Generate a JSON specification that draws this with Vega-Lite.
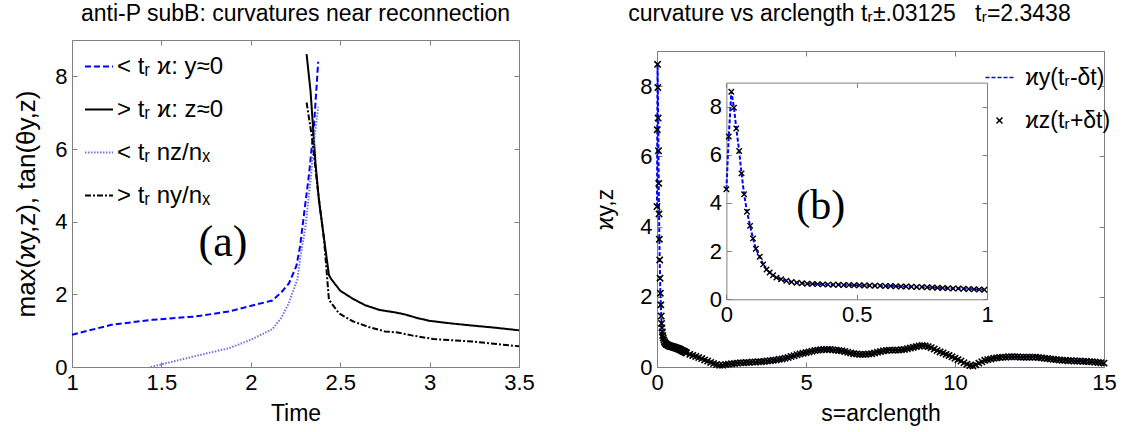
{
  "$schema": "https://vega.github.io/schema/vega-lite/v6.json",
  "padding": {"left": 13, "top": 2, "right": 5, "bottom": 5},
  "background": "white",
  "config": {
    "font": "Liberation Sans",
    "view": {"stroke": "#808080", "strokeWidth": 1},
    "title": {"font": "Liberation Sans", "fontSize": 23, "fontWeight": "normal", "color": "#000", "baseline": "alphabetic", "anchor": "middle"},
    "axis": {"labelFont": "Liberation Sans", "labelFontSize": 22, "labelColor": "#000", "titleFont": "Liberation Sans", "titleFontSize": 23, "titleFontWeight": "normal", "titleColor": "#000", "tickColor": "#808080", "tickSize": -5, "tickWidth": 1, "domain": false, "domainColor": "#808080", "domainWidth": 1, "grid": false, "labelPadding": 10, "labelFlush": false, "labelOverlap": false, "format": "~g"}
  },
  "datasets": {
    "left": [
      {"series": "< tᵣ ϰ: y≈0", "t": 1.0, "v": 0.89},
      {"series": "< tᵣ ϰ: y≈0", "t": 1.22, "v": 1.16},
      {"series": "< tᵣ ϰ: y≈0", "t": 1.45, "v": 1.3},
      {"series": "< tᵣ ϰ: y≈0", "t": 1.69, "v": 1.39},
      {"series": "< tᵣ ϰ: y≈0", "t": 1.88, "v": 1.53},
      {"series": "< tᵣ ϰ: y≈0", "t": 1.99, "v": 1.67},
      {"series": "< tᵣ ϰ: y≈0", "t": 2.12, "v": 1.83},
      {"series": "< tᵣ ϰ: y≈0", "t": 2.17, "v": 2.05},
      {"series": "< tᵣ ϰ: y≈0", "t": 2.213, "v": 2.3},
      {"series": "< tᵣ ϰ: y≈0", "t": 2.255, "v": 2.78},
      {"series": "< tᵣ ϰ: y≈0", "t": 2.275, "v": 3.3},
      {"series": "< tᵣ ϰ: y≈0", "t": 2.298, "v": 4.22},
      {"series": "< tᵣ ϰ: y≈0", "t": 2.326, "v": 5.32},
      {"series": "< tᵣ ϰ: y≈0", "t": 2.354, "v": 6.69},
      {"series": "< tᵣ ϰ: y≈0", "t": 2.377, "v": 8.4},
      {"series": "> tᵣ ϰ: z≈0", "t": 2.312, "v": 8.61},
      {"series": "> tᵣ ϰ: z≈0", "t": 2.334, "v": 7.6},
      {"series": "> tᵣ ϰ: z≈0", "t": 2.362, "v": 5.6},
      {"series": "> tᵣ ϰ: z≈0", "t": 2.381, "v": 4.59},
      {"series": "> tᵣ ϰ: z≈0", "t": 2.437, "v": 2.53},
      {"series": "> tᵣ ϰ: z≈0", "t": 2.45, "v": 2.42},
      {"series": "> tᵣ ϰ: z≈0", "t": 2.5, "v": 2.1},
      {"series": "> tᵣ ϰ: z≈0", "t": 2.57, "v": 1.88},
      {"series": "> tᵣ ϰ: z≈0", "t": 2.64, "v": 1.7},
      {"series": "> tᵣ ϰ: z≈0", "t": 2.72, "v": 1.57},
      {"series": "> tᵣ ϰ: z≈0", "t": 2.81, "v": 1.5},
      {"series": "> tᵣ ϰ: z≈0", "t": 2.86, "v": 1.45},
      {"series": "> tᵣ ϰ: z≈0", "t": 2.93, "v": 1.35},
      {"series": "> tᵣ ϰ: z≈0", "t": 3.0, "v": 1.27},
      {"series": "> tᵣ ϰ: z≈0", "t": 3.12, "v": 1.2},
      {"series": "> tᵣ ϰ: z≈0", "t": 3.24, "v": 1.14},
      {"series": "> tᵣ ϰ: z≈0", "t": 3.37, "v": 1.08},
      {"series": "> tᵣ ϰ: z≈0", "t": 3.5, "v": 1.01},
      {"series": "< tᵣ nz/nₓ", "t": 1.44, "v": 0.0},
      {"series": "< tᵣ nz/nₓ", "t": 1.69, "v": 0.3},
      {"series": "< tᵣ nz/nₓ", "t": 1.88, "v": 0.52},
      {"series": "< tᵣ nz/nₓ", "t": 2.0, "v": 0.75},
      {"series": "< tᵣ nz/nₓ", "t": 2.12, "v": 1.04},
      {"series": "< tᵣ nz/nₓ", "t": 2.17, "v": 1.35},
      {"series": "< tᵣ nz/nₓ", "t": 2.213, "v": 1.76},
      {"series": "< tᵣ nz/nₓ", "t": 2.232, "v": 2.03},
      {"series": "< tᵣ nz/nₓ", "t": 2.26, "v": 2.4},
      {"series": "< tᵣ nz/nₓ", "t": 2.278, "v": 3.04},
      {"series": "< tᵣ nz/nₓ", "t": 2.306, "v": 3.86},
      {"series": "< tᵣ nz/nₓ", "t": 2.334, "v": 5.14},
      {"series": "< tᵣ nz/nₓ", "t": 2.354, "v": 6.23},
      {"series": "< tᵣ nz/nₓ", "t": 2.377, "v": 7.15},
      {"series": "> tᵣ ny/nₓ", "t": 2.312, "v": 7.28},
      {"series": "> tᵣ ny/nₓ", "t": 2.345, "v": 6.23},
      {"series": "> tᵣ ny/nₓ", "t": 2.373, "v": 4.95},
      {"series": "> tᵣ ny/nₓ", "t": 2.41, "v": 3.49},
      {"series": "> tᵣ ny/nₓ", "t": 2.437, "v": 1.85},
      {"series": "> tᵣ ny/nₓ", "t": 2.45, "v": 1.76},
      {"series": "> tᵣ ny/nₓ", "t": 2.493, "v": 1.48},
      {"series": "> tᵣ ny/nₓ", "t": 2.57, "v": 1.26},
      {"series": "> tᵣ ny/nₓ", "t": 2.66, "v": 1.1},
      {"series": "> tᵣ ny/nₓ", "t": 2.75, "v": 0.98},
      {"series": "> tᵣ ny/nₓ", "t": 2.82, "v": 0.95},
      {"series": "> tᵣ ny/nₓ", "t": 2.9, "v": 0.87},
      {"series": "> tᵣ ny/nₓ", "t": 3.02, "v": 0.77},
      {"series": "> tᵣ ny/nₓ", "t": 3.24, "v": 0.7},
      {"series": "> tᵣ ny/nₓ", "t": 3.5, "v": 0.57}
    ],
    "curv": [
      {"s": 0, "k": 4.57}, {"s": 0.009, "k": 6.76}, {"s": 0.019, "k": 8.62}, {"s": 0.029, "k": 7.96},
      {"s": 0.038, "k": 7.09}, {"s": 0.049, "k": 6.16}, {"s": 0.058, "k": 5.23}, {"s": 0.068, "k": 4.36},
      {"s": 0.079, "k": 3.64}, {"s": 0.091, "k": 3.05}, {"s": 0.102, "k": 2.53}, {"s": 0.113, "k": 2.1},
      {"s": 0.128, "k": 1.77}, {"s": 0.141, "k": 1.45}, {"s": 0.154, "k": 1.24}, {"s": 0.166, "k": 1.11},
      {"s": 0.179, "k": 1.0}, {"s": 0.192, "k": 0.9}, {"s": 0.21, "k": 0.83}, {"s": 0.23, "k": 0.77},
      {"s": 0.25, "k": 0.72}, {"s": 0.27, "k": 0.69}, {"s": 0.29, "k": 0.67}, {"s": 0.31, "k": 0.65},
      {"s": 0.33, "k": 0.64}, {"s": 0.35, "k": 0.63}, {"s": 0.37, "k": 0.62}, {"s": 0.39, "k": 0.61},
      {"s": 0.41, "k": 0.6}, {"s": 0.43, "k": 0.6}, {"s": 0.45, "k": 0.59}, {"s": 0.47, "k": 0.59},
      {"s": 0.49, "k": 0.58}, {"s": 0.51, "k": 0.58}, {"s": 0.53, "k": 0.57}, {"s": 0.55, "k": 0.57},
      {"s": 0.57, "k": 0.56}, {"s": 0.59, "k": 0.56}, {"s": 0.61, "k": 0.55}, {"s": 0.63, "k": 0.55},
      {"s": 0.65, "k": 0.54}, {"s": 0.67, "k": 0.53}, {"s": 0.69, "k": 0.53}, {"s": 0.71, "k": 0.52},
      {"s": 0.73, "k": 0.51}, {"s": 0.75, "k": 0.51}, {"s": 0.77, "k": 0.5}, {"s": 0.79, "k": 0.49},
      {"s": 0.81, "k": 0.48}, {"s": 0.83, "k": 0.47}, {"s": 0.85, "k": 0.46}, {"s": 0.87, "k": 0.45},
      {"s": 0.89, "k": 0.45}, {"s": 0.91, "k": 0.44}, {"s": 0.93, "k": 0.43}, {"s": 0.95, "k": 0.42},
      {"s": 0.97, "k": 0.41}, {"s": 0.99, "k": 0.4},
      {"s": 1.1, "k": 0.36}, {"s": 1.2, "k": 0.33}, {"s": 1.3, "k": 0.3}, {"s": 1.4, "k": 0.27},
      {"s": 1.5, "k": 0.24}, {"s": 1.6, "k": 0.2}, {"s": 1.7, "k": 0.17}, {"s": 1.8, "k": 0.13},
      {"s": 1.9, "k": 0.1}, {"s": 2.0, "k": 0.07}, {"s": 2.1, "k": 0.05}, {"s": 2.2, "k": 0.05},
      {"s": 2.3, "k": 0.07}, {"s": 2.4, "k": 0.08}, {"s": 2.5, "k": 0.09}, {"s": 2.6, "k": 0.1},
      {"s": 2.7, "k": 0.11}, {"s": 2.8, "k": 0.12}, {"s": 2.9, "k": 0.12}, {"s": 3.0, "k": 0.13},
      {"s": 3.1, "k": 0.13}, {"s": 3.2, "k": 0.14}, {"s": 3.3, "k": 0.14}, {"s": 3.4, "k": 0.15},
      {"s": 3.5, "k": 0.15}, {"s": 3.6, "k": 0.16}, {"s": 3.7, "k": 0.17}, {"s": 3.8, "k": 0.18},
      {"s": 3.9, "k": 0.19}, {"s": 4.0, "k": 0.2}, {"s": 4.1, "k": 0.22}, {"s": 4.2, "k": 0.23},
      {"s": 4.3, "k": 0.25}, {"s": 4.4, "k": 0.27}, {"s": 4.5, "k": 0.3}, {"s": 4.6, "k": 0.32},
      {"s": 4.7, "k": 0.35}, {"s": 4.8, "k": 0.37}, {"s": 4.9, "k": 0.39}, {"s": 5.0, "k": 0.41},
      {"s": 5.1, "k": 0.43}, {"s": 5.2, "k": 0.45}, {"s": 5.3, "k": 0.47}, {"s": 5.4, "k": 0.48},
      {"s": 5.5, "k": 0.49}, {"s": 5.6, "k": 0.5}, {"s": 5.7, "k": 0.5}, {"s": 5.8, "k": 0.5},
      {"s": 5.9, "k": 0.49}, {"s": 6.0, "k": 0.48}, {"s": 6.1, "k": 0.47}, {"s": 6.2, "k": 0.46},
      {"s": 6.3, "k": 0.44}, {"s": 6.4, "k": 0.42}, {"s": 6.5, "k": 0.4}, {"s": 6.6, "k": 0.38},
      {"s": 6.7, "k": 0.37}, {"s": 6.8, "k": 0.36}, {"s": 6.9, "k": 0.36}, {"s": 7.0, "k": 0.36},
      {"s": 7.1, "k": 0.37}, {"s": 7.2, "k": 0.38}, {"s": 7.3, "k": 0.4}, {"s": 7.4, "k": 0.42},
      {"s": 7.5, "k": 0.44}, {"s": 7.6, "k": 0.46}, {"s": 7.7, "k": 0.47}, {"s": 7.8, "k": 0.48},
      {"s": 7.9, "k": 0.48}, {"s": 8.0, "k": 0.48}, {"s": 8.1, "k": 0.48}, {"s": 8.2, "k": 0.49},
      {"s": 8.3, "k": 0.5}, {"s": 8.4, "k": 0.52}, {"s": 8.5, "k": 0.54}, {"s": 8.6, "k": 0.56},
      {"s": 8.7, "k": 0.58}, {"s": 8.8, "k": 0.6}, {"s": 8.9, "k": 0.61}, {"s": 9.0, "k": 0.6},
      {"s": 9.1, "k": 0.58}, {"s": 9.2, "k": 0.55}, {"s": 9.3, "k": 0.51}, {"s": 9.4, "k": 0.47},
      {"s": 9.5, "k": 0.43}, {"s": 9.6, "k": 0.4}, {"s": 9.7, "k": 0.36}, {"s": 9.8, "k": 0.33},
      {"s": 9.9, "k": 0.29}, {"s": 10.0, "k": 0.25}, {"s": 10.1, "k": 0.21}, {"s": 10.2, "k": 0.17},
      {"s": 10.3, "k": 0.12}, {"s": 10.4, "k": 0.08}, {"s": 10.5, "k": 0.04}, {"s": 10.6, "k": 0.03},
      {"s": 10.7, "k": 0.06}, {"s": 10.8, "k": 0.11}, {"s": 10.9, "k": 0.15}, {"s": 11.0, "k": 0.19},
      {"s": 11.1, "k": 0.21}, {"s": 11.2, "k": 0.23}, {"s": 11.3, "k": 0.25}, {"s": 11.4, "k": 0.26},
      {"s": 11.5, "k": 0.27}, {"s": 11.6, "k": 0.28}, {"s": 11.7, "k": 0.28}, {"s": 11.8, "k": 0.29},
      {"s": 11.9, "k": 0.29}, {"s": 12.0, "k": 0.29}, {"s": 12.1, "k": 0.29}, {"s": 12.2, "k": 0.28},
      {"s": 12.3, "k": 0.28}, {"s": 12.4, "k": 0.28}, {"s": 12.5, "k": 0.28}, {"s": 12.6, "k": 0.28},
      {"s": 12.7, "k": 0.28}, {"s": 12.8, "k": 0.27}, {"s": 12.9, "k": 0.26}, {"s": 13.0, "k": 0.25},
      {"s": 13.1, "k": 0.24}, {"s": 13.2, "k": 0.23}, {"s": 13.3, "k": 0.22}, {"s": 13.4, "k": 0.21},
      {"s": 13.5, "k": 0.2}, {"s": 13.6, "k": 0.19}, {"s": 13.7, "k": 0.19}, {"s": 13.8, "k": 0.18},
      {"s": 13.9, "k": 0.18}, {"s": 14.0, "k": 0.17}, {"s": 14.1, "k": 0.17}, {"s": 14.2, "k": 0.17},
      {"s": 14.3, "k": 0.16}, {"s": 14.4, "k": 0.16}, {"s": 14.5, "k": 0.15}, {"s": 14.6, "k": 0.15},
      {"s": 14.7, "k": 0.14}, {"s": 14.8, "k": 0.13}, {"s": 14.9, "k": 0.12}, {"s": 15.0, "k": 0.11}
    ]
  },
  "spacing": 59,
  "resolve": {"scale": {"color": "independent", "strokeDash": "independent", "shape": "independent"}},
  "hconcat": [
    {
      "width": 447,
      "height": 327,
      "title": {"text": "anti-P subB: curvatures near reconnection", "offset": 14},
      "data": {"name": "left"},
      "layer": [
        {
          "mark": {"type": "line", "strokeWidth": 2},
          "encoding": {
            "x": {"field": "t", "type": "quantitative", "scale": {"domain": [1, 3.5], "nice": false, "zero": false}, "axis": {"values": [1, 1.5, 2, 2.5, 3, 3.5], "title": "Time", "titlePadding": 9}},
            "y": {"field": "v", "type": "quantitative", "scale": {"domain": [0, 9], "nice": false}, "axis": {"values": [0, 2, 4, 6, 8], "title": "max(ϰy,z),  tan(θy,z)", "titleFontSize": 26, "titlePadding": 15}},
            "color": {"field": "series", "type": "nominal", "scale": {"domain": ["< tᵣ ϰ: y≈0", "> tᵣ ϰ: z≈0", "< tᵣ nz/nₓ", "> tᵣ ny/nₓ"], "range": ["#0000ff", "#000000", "#7070e8", "#000000"]},
              "legend": {"title": null, "orient": "none", "legendX": 12, "legendY": 11.5, "labelFontSize": 24, "labelFont": "Liberation Sans", "labelColor": "#000", "symbolType": "stroke", "symbolSize": 784, "symbolStrokeWidth": 2, "rowPadding": 16, "labelOffset": 3, "padding": 0, "labelLimit": 400}},
            "strokeDash": {"field": "series", "type": "nominal", "scale": {"domain": ["< tᵣ ϰ: y≈0", "> tᵣ ϰ: z≈0", "< tᵣ nz/nₓ", "> tᵣ ny/nₓ"], "range": [[6, 3], [1, 0], [1.5, 1.5], [6, 2, 2, 2]]},
              "legend": {"title": null, "orient": "none", "legendX": 12, "legendY": 11.5, "labelFontSize": 24, "labelFont": "Liberation Sans", "labelColor": "#000", "symbolType": "stroke", "symbolSize": 784, "symbolStrokeWidth": 2, "rowPadding": 16, "labelOffset": 3, "padding": 0, "labelLimit": 400}}
          }
        },
        {
          "data": {"values": [{"t": 1, "v": 0}]},
          "mark": {"type": "point", "opacity": 0},
          "encoding": {
            "x": {"field": "t", "type": "quantitative", "axis": {"orient": "top", "labels": false, "values": [1, 1.5, 2, 2.5, 3, 3.5], "title": null}},
            "y": {"field": "v", "type": "quantitative", "axis": {"orient": "right", "labels": false, "values": [0, 2, 4, 6, 8], "title": null}}
          }
        },
        {
          "data": {"values": [{"label": "(a)"}]},
          "mark": {"type": "text", "font": "Liberation Serif", "fontSize": 44, "baseline": "middle", "align": "center", "color": "#000"},
          "encoding": {
            "text": {"field": "label"},
            "x": {"datum": 1.844, "type": "quantitative", "axis": null},
            "y": {"datum": 3.4, "type": "quantitative", "axis": null}
          }
        }
      ],
      "resolve": {"axis": {"x": "independent", "y": "independent"}}
    },
    {
      "width": 447,
      "height": 327,
      "view": {"stroke": null},
      "title": {"text": "curvature vs arclength tᵣ±.03125\u00a0\u00a0\u00a0tᵣ=2.3438", "offset": 14, "dx": -31},
      "data": {"name": "curv"},
      "layer": [
        {
          "mark": {"type": "line", "strokeWidth": 2},
          "encoding": {
            "x": {"field": "s", "type": "quantitative", "scale": {"domain": [0, 15], "nice": false, "zero": false}, "axis": {"values": [0, 5, 10, 15], "title": "s=arclength", "titlePadding": 9, "domain": true}},
            "y": {"field": "k", "type": "quantitative", "scale": {"domain": [0, 9], "range": [327, 11], "nice": false}, "axis": {"values": [0, 2, 4, 6, 8], "title": "ϰy,z", "titlePadding": 22, "domain": true}},
            "color": {"datum": "ϰy(tᵣ-δt)", "type": "nominal", "scale": {"domain": ["ϰy(tᵣ-δt)", "ϰz(tᵣ+δt)"], "range": ["#0000ff", "#000000"]},
              "legend": {"title": null, "orient": "none", "legendX": 331, "legendY": 26, "labelFontSize": 23, "labelFont": "Liberation Sans", "labelColor": "#000", "symbolSize": 36, "symbolStrokeWidth": 1.5, "rowPadding": 19, "labelOffset": 14, "padding": 0}},
            "strokeDash": {"datum": "ϰy(tᵣ-δt)", "type": "nominal", "scale": {"domain": ["ϰy(tᵣ-δt)", "ϰz(tᵣ+δt)"], "range": [[4, 2], [1, 0]]},
              "legend": {"title": null, "orient": "none", "legendX": 331, "legendY": 26, "labelFontSize": 23, "labelFont": "Liberation Sans", "labelColor": "#000", "symbolSize": 36, "symbolStrokeWidth": 1.5, "rowPadding": 19, "labelOffset": 14, "padding": 0}}
          }
        },
        {
          "mark": {"type": "point", "filled": false, "strokeWidth": 1.6, "size": 40, "opacity": 1},
          "encoding": {
            "x": {"field": "s", "type": "quantitative", "scale": {"domain": [0, 15], "nice": false, "zero": false}, "axis": null},
            "y": {"field": "k", "type": "quantitative", "scale": {"domain": [0, 9], "range": [327, 11], "nice": false}, "axis": null},
            "color": {"datum": "ϰz(tᵣ+δt)", "type": "nominal"},
            "strokeDash": {"datum": "ϰz(tᵣ+δt)", "type": "nominal"},
            "shape": {"datum": "ϰz(tᵣ+δt)", "type": "nominal", "scale": {"domain": ["ϰy(tᵣ-δt)", "ϰz(tᵣ+δt)"], "range": ["M-4.67,0L4.67,0", "M-1,-1L1,1M-1,1L1,-1"]},
              "legend": {"title": null, "orient": "none", "legendX": 331, "legendY": 26, "labelFontSize": 23, "labelFont": "Liberation Sans", "labelColor": "#000", "symbolSize": 36, "symbolStrokeWidth": 1.5, "rowPadding": 19, "labelOffset": 14, "padding": 0}}
          }
        },
        {
          "data": {"values": [{"s": 0, "k": 0}]},
          "mark": {"type": "point", "opacity": 0},
          "encoding": {
            "x": {"field": "s", "type": "quantitative", "scale": {"domain": [0, 15], "nice": false, "zero": false}, "axis": {"orient": "top", "offset": -11, "labels": false, "values": [0, 5, 10, 15], "title": null, "domain": true}},
            "y": {"field": "k", "type": "quantitative", "scale": {"domain": [0, 9], "range": [327, 11], "nice": false}, "axis": {"orient": "right", "labels": false, "values": [0, 2, 4, 6, 8], "title": null, "domain": true}}
          }
        },
        {
          "transform": [{"filter": "datum.s <= 1"}],
          "mark": {"type": "line", "strokeWidth": 2, "stroke": "#0000ff", "strokeDash": [4, 2]},
          "encoding": {
            "x": {"field": "s", "type": "quantitative", "scale": {"domain": [0, 1], "range": [69.4, 330], "nice": false, "zero": false}, "axis": {"orient": "bottom", "offset": -67.7, "values": [0, 0.5, 1], "title": null, "domain": true}},
            "y": {"field": "k", "type": "quantitative", "scale": {"domain": [0, 9], "range": [259.3, 42.6], "nice": false}, "axis": {"orient": "left", "offset": -69.4, "values": [0, 2, 4, 6, 8], "title": null, "domain": true}}
          }
        },
        {
          "transform": [{"filter": "datum.s <= 1"}],
          "mark": {"type": "point", "filled": false, "strokeWidth": 1.4, "size": 30, "stroke": "#000000", "shape": "M-1,-1L1,1M-1,1L1,-1", "opacity": 1},
          "encoding": {
            "x": {"field": "s", "type": "quantitative", "scale": {"domain": [0, 1], "range": [69.4, 330], "nice": false, "zero": false}, "axis": null},
            "y": {"field": "k", "type": "quantitative", "scale": {"domain": [0, 9], "range": [259.3, 42.6], "nice": false}, "axis": null}
          }
        },
        {
          "data": {"values": [{"s": 0, "k": 0}]},
          "mark": {"type": "point", "opacity": 0},
          "encoding": {
            "x": {"field": "s", "type": "quantitative", "scale": {"domain": [0, 1], "range": [69.4, 330], "nice": false, "zero": false}, "axis": {"orient": "top", "offset": -42.6, "labels": false, "values": [0, 0.5, 1], "title": null, "domain": true}},
            "y": {"field": "k", "type": "quantitative", "scale": {"domain": [0, 9], "range": [259.3, 42.6], "nice": false}, "axis": {"orient": "right", "offset": -117, "labels": false, "values": [0, 2, 4, 6, 8], "title": null, "domain": true}}
          }
        },
        {
          "data": {"values": [{"label": "(b)"}]},
          "mark": {"type": "text", "font": "Liberation Serif", "fontSize": 42, "baseline": "middle", "align": "center", "color": "#000"},
          "encoding": {
            "text": {"field": "label"},
            "x": {"datum": 0.362, "type": "quantitative", "scale": {"domain": [0, 1], "range": [69.4, 330], "nice": false, "zero": false}, "axis": null},
            "y": {"datum": 3.87, "type": "quantitative", "scale": {"domain": [0, 9], "range": [259.3, 42.6], "nice": false}, "axis": null}
          }
        }
      ],
      "resolve": {"scale": {"x": "independent", "y": "independent"}, "axis": {"x": "independent", "y": "independent"}}
    }
  ]
}
